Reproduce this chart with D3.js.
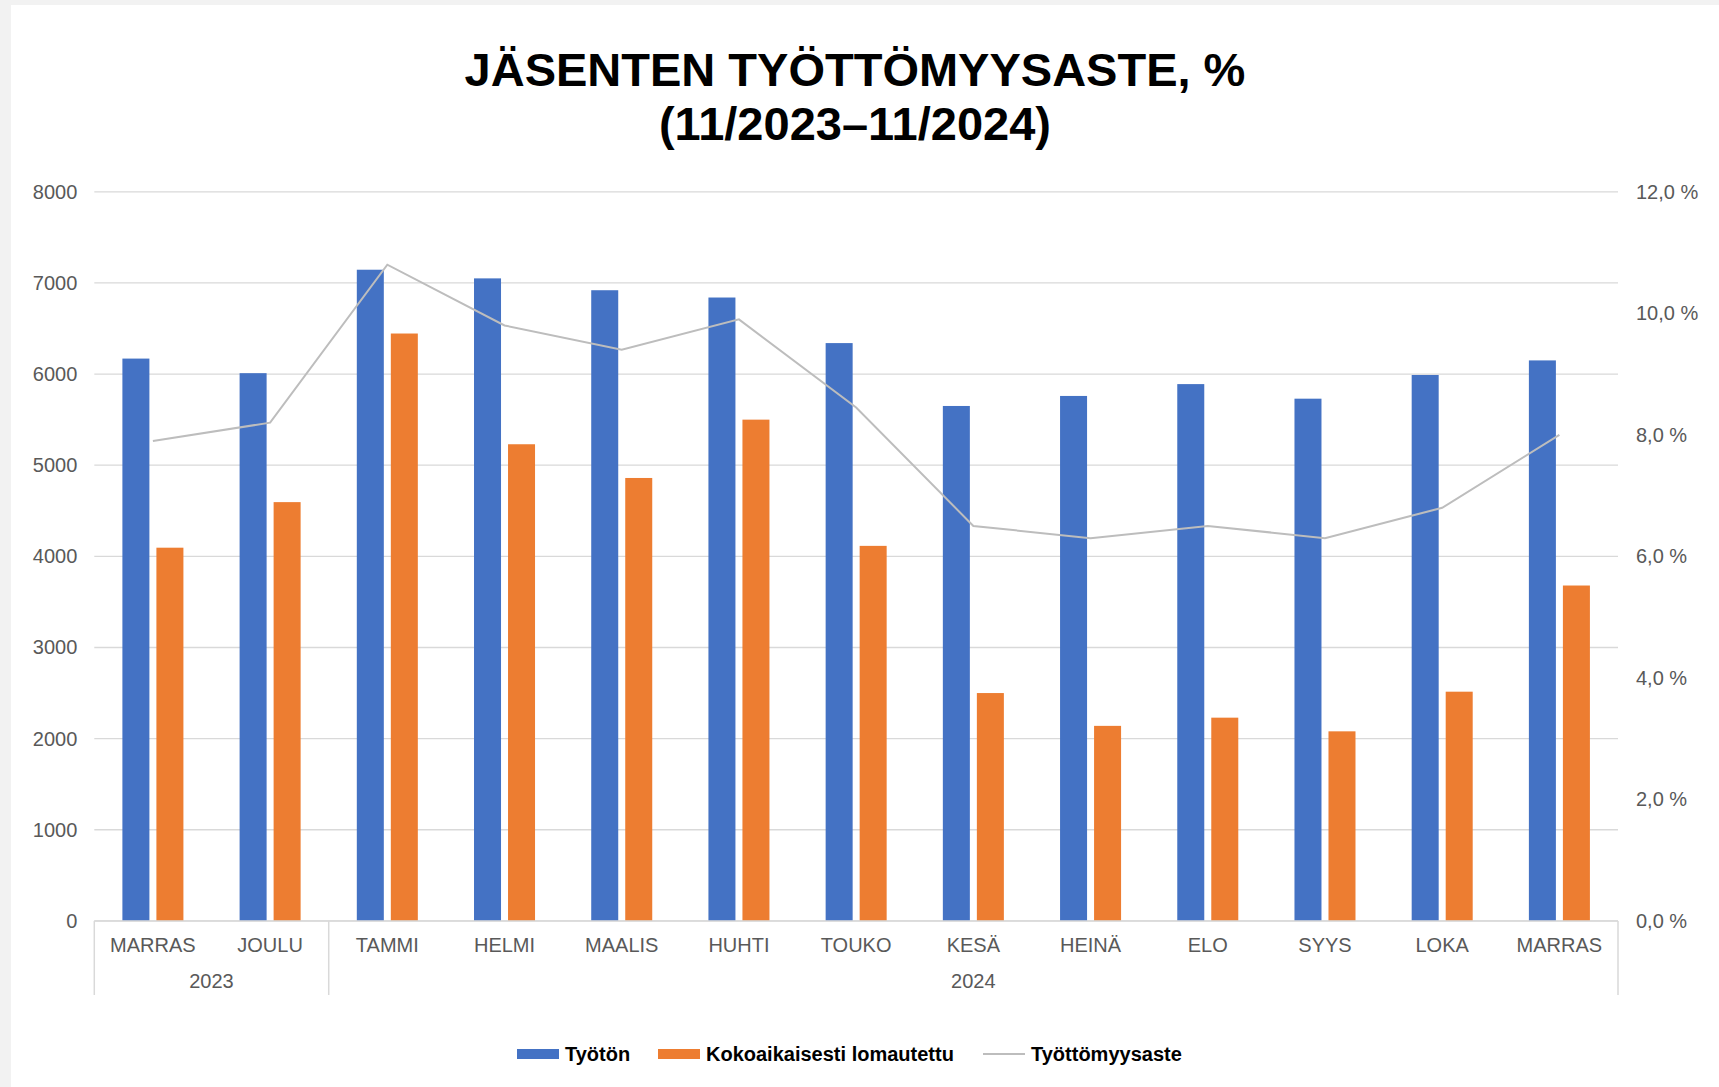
<!DOCTYPE html>
<html>
<head>
<meta charset="utf-8">
<script src="https://cdn.jsdelivr.net/npm/d3@7"></script>
<style>
  html, body { margin: 0; padding: 0; background: #f2f2f2; }
  svg { display: block; }
</style>
</head>
<body>
<svg id="chart" width="1719" height="1087"></svg>
<script>

//
// Data
//

const months = ['MARRAS', 'JOULU', 'TAMMI', 'HELMI', 'MAALIS', 'HUHTI', 'TOUKO',
                'KESÄ', 'HEINÄ', 'ELO', 'SYYS', 'LOKA', 'MARRAS'];
const years = ['2023', '2024'];
const yearSpans = [2, 11]; // months per year group

const tyoton = [6170, 6010, 7145, 7050, 6920, 6840, 6340, 5650, 5760, 5890, 5730, 5990, 6150];
const lomautettu = [4095, 4595, 6445, 5230, 4860, 5500, 4115, 2500, 2140, 2230, 2080, 2515, 3680];
const aste = [7.9, 8.2, 10.8, 9.8, 9.4, 9.9, 8.45, 6.5, 6.3, 6.5, 6.3, 6.8, 8.0];

const leftTicks = [0, 1000, 2000, 3000, 4000, 5000, 6000, 7000, 8000];
const rightTicks = [0, 2, 4, 6, 8, 10, 12];

const seriesNames = ['Työtön', 'Kokoaikaisesti lomautettu', 'Työttömyysaste'];

//
// Configuration
//

const colorBlue = '#4472c4';
const colorOrange = '#ed7d31';
const colorLine = '#bdbdbd';
const colorGrid = '#d9d9d9';
const colorText = '#595959';
const font = 'Arial, "Liberation Sans", sans-serif';

const plot = {left: 94.3, right: 1618, top: 191.8, bottom: 920.9};

const svg = d3.select('#chart');

// chart area (white), the outer strip stays light gray
svg.append('rect')
    .attr('x', 11).attr('y', 5)
    .attr('width', 1719 - 11).attr('height', 1087 - 5)
    .attr('fill', '#fff');

//
// Scales
//

const idx = months.map((d, i) => i);

const x = d3.scaleBand()
    .domain(idx)
    .range([plot.left, plot.right])
    .padding(0);

const x1 = d3.scaleBand()
    .domain([0, 1])
    .range([0, x.bandwidth()])
    .paddingInner(0.206)
    .paddingOuter(0.826);

const y = d3.scaleLinear().domain([0, 8000]).range([plot.bottom, plot.top]);
const y2 = d3.scaleLinear().domain([0, 12]).range([plot.bottom, plot.top]);

//
// Grid
//

svg.append('g')
    .selectAll('line')
    .data(leftTicks)
    .join('line')
    .attr('x1', plot.left).attr('x2', plot.right)
    .attr('y1', d => y(d)).attr('y2', d => y(d))
    .attr('stroke', colorGrid)
    .attr('stroke-width', 1.3);

//
// Axes
//

const leftAxis = svg.append('g')
    .attr('transform', `translate(${plot.left},0)`)
    .call(d3.axisLeft(y).tickValues(leftTicks).tickSize(0).tickPadding(17).tickFormat(d3.format('d')));

const pct = v => d3.format('.1f')(v).replace('.', ',') + ' %';

const rightAxis = svg.append('g')
    .attr('transform', `translate(${plot.right},0)`)
    .call(d3.axisRight(y2).tickValues(rightTicks).tickSize(0).tickPadding(18).tickFormat(pct));

[leftAxis, rightAxis].forEach(g => {
  g.select('.domain').remove();
  g.selectAll('text')
      .attr('font-family', font)
      .attr('font-size', 20)
      .attr('fill', colorText);
});

//
// Bars
//

const bars = svg.append('g');

bars.selectAll('rect.tyoton')
    .data(tyoton)
    .join('rect')
    .attr('class', 'tyoton')
    .attr('x', (d, i) => x(i) + x1(0))
    .attr('width', x1.bandwidth())
    .attr('y', d => y(d))
    .attr('height', d => y(0) - y(d))
    .attr('fill', colorBlue);

bars.selectAll('rect.loma')
    .data(lomautettu)
    .join('rect')
    .attr('class', 'loma')
    .attr('x', (d, i) => x(i) + x1(1))
    .attr('width', x1.bandwidth())
    .attr('y', d => y(d))
    .attr('height', d => y(0) - y(d))
    .attr('fill', colorOrange);

//
// Line
//

const line = d3.line()
    .x((d, i) => x(i) + x.bandwidth() / 2)
    .y(d => y2(d));

svg.append('path')
    .datum(aste)
    .attr('d', line)
    .attr('fill', 'none')
    .attr('stroke', colorLine)
    .attr('stroke-width', 2);

//
// Category axis (months + years)
//

const catAxis = svg.append('g');

catAxis.append('line')
    .attr('x1', plot.left).attr('x2', plot.right)
    .attr('y1', plot.bottom).attr('y2', plot.bottom)
    .attr('stroke', colorGrid)
    .attr('stroke-width', 1.5);

catAxis.selectAll('text.month')
    .data(months)
    .join('text')
    .attr('class', 'month')
    .attr('x', (d, i) => x(i) + x.bandwidth() / 2)
    .attr('y', 952)
    .attr('text-anchor', 'middle')
    .attr('font-family', font)
    .attr('font-size', 20)
    .attr('fill', colorText)
    .text(d => d);

// year groups
let start = 0;
const groups = years.map((yr, k) => {
  const g = {year: yr, from: start, to: start + yearSpans[k]};
  start += yearSpans[k];
  return g;
});

const sepX = i => i < months.length ? x(i) : plot.right;
const sepIdx = [0].concat(groups.map(g => g.to));

catAxis.selectAll('line.sep')
    .data(sepIdx)
    .join('line')
    .attr('class', 'sep')
    .attr('x1', d => sepX(d)).attr('x2', d => sepX(d))
    .attr('y1', plot.bottom).attr('y2', 995)
    .attr('stroke', colorGrid)
    .attr('stroke-width', 1.5);

catAxis.selectAll('text.year')
    .data(groups)
    .join('text')
    .attr('class', 'year')
    .attr('x', g => (sepX(g.from) + sepX(g.to)) / 2)
    .attr('y', 988)
    .attr('text-anchor', 'middle')
    .attr('font-family', font)
    .attr('font-size', 20)
    .attr('fill', colorText)
    .text(g => g.year);

//
// Title
//

const title = svg.append('text')
    .attr('text-anchor', 'middle')
    .attr('font-family', font)
    .attr('font-size', 47)
    .attr('font-weight', 'bold')
    .attr('fill', '#000');

title.append('tspan').attr('x', 855).attr('y', 86).text('JÄSENTEN TYÖTTÖMYYSASTE, %');
title.append('tspan').attr('x', 855).attr('y', 140).text('(11/2023–11/2024)');

//
// Legend
//

const legendItems = [
  {name: seriesNames[0], color: colorBlue, type: 'bar', x: 517},
  {name: seriesNames[1], color: colorOrange, type: 'bar', x: 658},
  {name: seriesNames[2], color: colorLine, type: 'line', x: 983}
];

const legend = svg.append('g').attr('transform', 'translate(0,1054)');

const li = legend.selectAll('g')
    .data(legendItems)
    .join('g')
    .attr('transform', d => `translate(${d.x},0)`);

li.filter(d => d.type === 'bar')
    .append('rect')
    .attr('x', 0).attr('y', -5)
    .attr('width', 42).attr('height', 10)
    .attr('fill', d => d.color);

li.filter(d => d.type === 'line')
    .append('line')
    .attr('x1', 0).attr('x2', 42)
    .attr('y1', 0).attr('y2', 0)
    .attr('stroke', d => d.color)
    .attr('stroke-width', 2);

li.append('text')
    .attr('x', 48)
    .attr('y', 7)
    .attr('font-family', font)
    .attr('font-size', 20)
    .attr('font-weight', 'bold')
    .attr('fill', '#000')
    .text(d => d.name);

</script>
</body>
</html>
